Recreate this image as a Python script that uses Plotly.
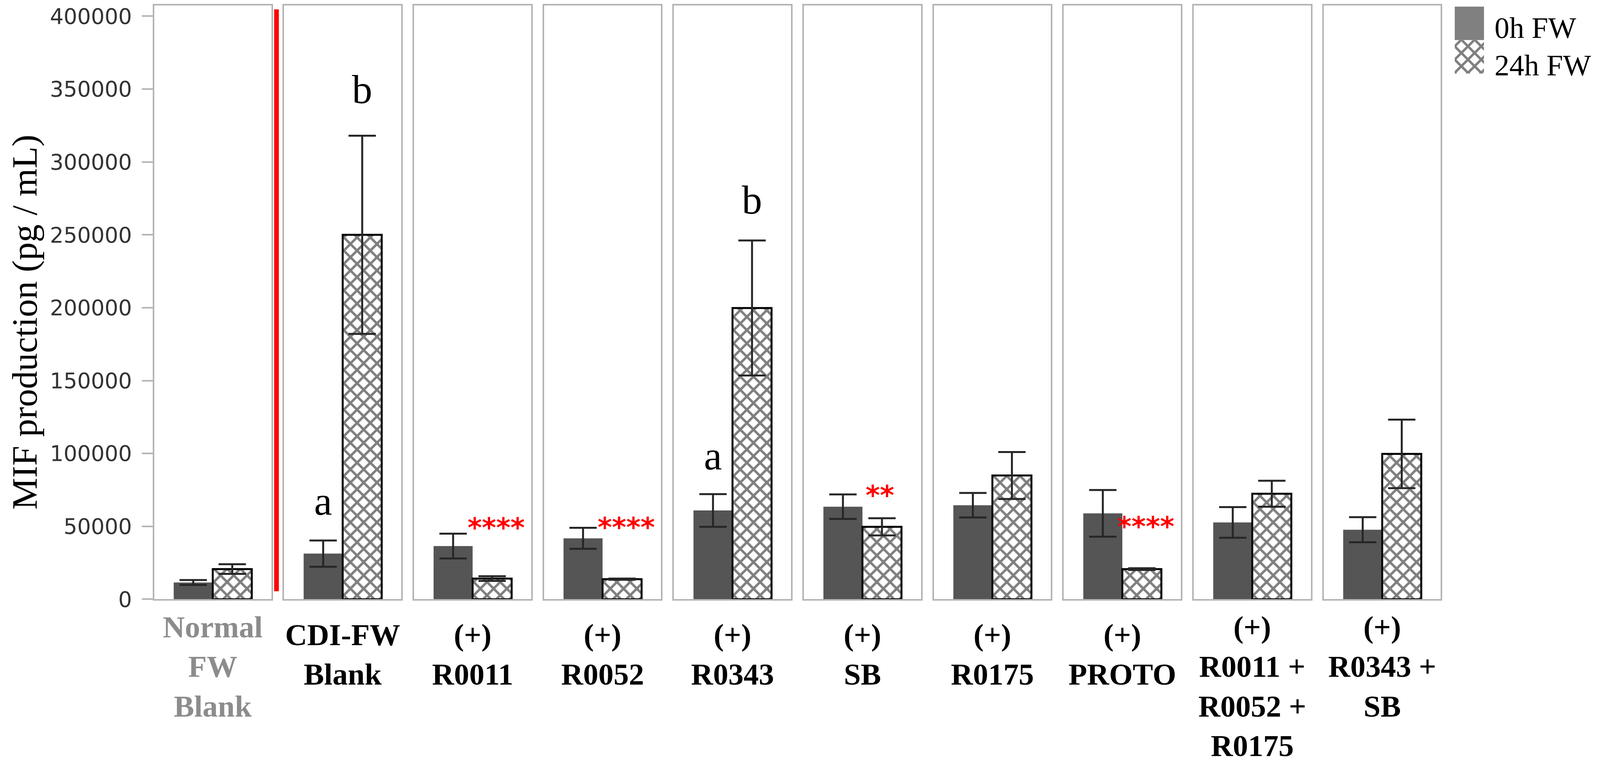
import plotly.graph_objects as go

# groups along the x axis
categories = [
    "Normal<br>FW<br>Blank",
    "CDI-FW<br>Blank",
    "(+)<br>R0011",
    "(+)<br>R0052",
    "(+)<br>R0343",
    "(+)<br>SB",
    "(+)<br>R0175",
    "(+)<br>PROTO",
    "(+)<br>R0011 +<br>R0052 +<br>R0175",
    "(+)<br>R0343 +<br>SB",
]
series_names = ["0h FW", "24h FW"]

# MIF production (pg / mL), mean and error
mean_0h = [11500, 31300, 36500, 41800, 60900, 63500, 64500, 58900, 52700, 47700]
err_0h = [1700, 9000, 8500, 7200, 11200, 8400, 8400, 16000, 10500, 8600]
mean_24h = [20700, 250000, 14200, 13800, 199800, 49700, 84900, 20700, 72400, 99700]
err_24h = [3300, 68000, 1600, 400, 46300, 5900, 16100, 600, 8900, 23500]

y_ticks = [0, 50000, 100000, 150000, 200000, 250000, 300000, 350000, 400000]

# letter groups (a / b) above bars
letter_panel = [1, 1, 4, 4]
letter_series = [0, 1, 0, 1]
letter_text = ["a", "b", "a", "b"]
letter_y = [67500, 350000, 98500, 274000]

# red significance stars
star_panel = [2, 3, 5, 7]
star_text = ["****", "****", "**", "****"]
star_y = [49200, 49400, 71300, 50000]

# positions are read in pixels of the 4317 x 1964 reference
W, H = 4317, 1964


def px(x):
    return x / W


def py(y):
    return 1 - y / H


SERIF = "Liberation Serif"
SANS = "DejaVu Sans"
DARK = "#555555"
BOX = "#b4b4b4"
ERR = "#262626"
HATCH = dict(shape="x", size=24, solidity=0.45, fgcolor="black", bgcolor="white")

x0_px, step_px, pw_px = 416, 350.6, 316
ydom = [py(1559), py(10)]
ymax = 407400

fig = go.Figure()
layout = {}
n = len(categories)
for i in range(n):
    ax = "" if i == 0 else str(i + 1)
    fig.add_trace(go.Bar(
        x=[0], y=[mean_0h[i]], name=series_names[0],
        width=1 / 3, offset=-1 / 3,
        marker=dict(color=DARK, line=dict(width=0)),
        error_y=dict(type="data", array=[err_0h[i]], color=ERR, thickness=5, width=35),
        xaxis="x" + ax, yaxis="y" + ax, showlegend=False,
    ))
    fig.add_trace(go.Bar(
        x=[0], y=[mean_24h[i]], name=series_names[1],
        width=1 / 3, offset=0,
        marker=dict(color="white", line=dict(color="black", width=5), pattern=HATCH),
        error_y=dict(type="data", array=[err_24h[i]], color=ERR, thickness=5, width=35),
        xaxis="x" + ax, yaxis="y" + ax, showlegend=False,
    ))
    left = px(x0_px + i * step_px)
    nlines = categories[i].count("<br>") + 1
    layout["xaxis" + ax] = dict(
        domain=[left, left + px(pw_px)], range=[-0.5, 0.5], anchor="y" + ax,
        tickvals=[0], ticktext=[categories[i]], ticks="", ticklen=0,
        tickfont=dict(family=SERIF, size=78, weight="bold",
                      color="#8c8c8c" if i == 0 else "black"),
        ticklabelstandoff=20 if nlines == 2 else 0,
        showline=True, mirror=True, linecolor=BOX, linewidth=4,
        showgrid=False, zeroline=False,
    )
    layout["yaxis" + ax] = dict(
        domain=ydom, range=[0, ymax], anchor="x" + ax,
        showline=True, mirror=True, linecolor=BOX, linewidth=4,
        showgrid=False, zeroline=False,
        tickvals=y_ticks, tickformat="d", ticklabeloverflow="allow",
        showticklabels=(i == 0), ticks="outside" if i == 0 else "",
        ticklen=28, tickwidth=4, tickcolor=BOX,
        tickfont=dict(family=SANS, size=55, color="#333333"),
        ticklabelstandoff=14,
    )

# legend drawn as swatches on its own small axis
fig.add_trace(go.Bar(x=[0], y=[1], base=[1], width=1, offset=-0.5,
                     marker=dict(color="#808080", line=dict(width=0)),
                     xaxis="x11", yaxis="y11", showlegend=False, hoverinfo="skip"))
fig.add_trace(go.Bar(x=[0], y=[1], base=[0], width=1, offset=-0.5,
                     marker=dict(color="white", line=dict(width=0), pattern=HATCH),
                     xaxis="x11", yaxis="y11", showlegend=False, hoverinfo="skip"))
layout["xaxis11"] = dict(domain=[px(3925), px(4004)], range=[-0.5, 0.5], visible=False, anchor="y11")
layout["yaxis11"] = dict(domain=[py(188), py(13)], range=[0, 2], visible=False, anchor="x11")

annotations = []
for name, ypx in zip(series_names, [68, 166]):
    annotations.append(dict(text=name, xref="paper", yref="paper", x=px(4030), y=py(ypx),
                            xanchor="left", yanchor="middle", showarrow=False,
                            font=dict(family=SERIF, size=76, color="black")))

for p, s, t, yv in zip(letter_panel, letter_series, letter_text, letter_y):
    ax = str(p + 1)
    annotations.append(dict(text=t, xref="x" + ax, yref="y" + ax,
                            x=-1 / 6 if s == 0 else 1 / 6, y=yv,
                            xanchor="center", yanchor="middle", showarrow=False,
                            font=dict(family=SERIF, size=104, color="black")))

for p, t, yv in zip(star_panel, star_text, star_y):
    ax = str(p + 1)
    annotations.append(dict(text=t, xref="x" + ax, yref="y" + ax,
                            x=0.2 if len(t) == 4 else 0.15, y=yv,
                            xanchor="center", yanchor="middle", showarrow=False,
                            font=dict(family=SANS, size=70, color="#ff0000", weight="bold")))

annotations.append(dict(text="MIF production (pg / mL)", xref="paper", yref="paper",
                        x=px(66), y=py(836), textangle=-90,
                        xanchor="center", yanchor="middle", showarrow=False,
                        font=dict(family=SERIF, size=92, color="black")))

fig.update_layout(
    width=W, height=H, autosize=False,
    margin=dict(l=0, r=0, t=0, b=0),
    paper_bgcolor="white", plot_bgcolor="white",
    barmode="group", showlegend=False,
    annotations=annotations,
    shapes=[dict(type="line", xref="paper", yref="y", x0=px(746), x1=px(746),
                 y0=5500, y1=404700, line=dict(color="#ff0000", width=12))],
    **layout,
)

# fit the figure to the real viewport
fit_js = """
document.body.style.margin = '0';
var gd = document.getElementById('{plot_id}');
Plotly.relayout(gd, {width: window.innerWidth, height: window.innerHeight});
"""
fig.write_html("out.html", post_script=fit_js, config={"displayModeBar": False})
